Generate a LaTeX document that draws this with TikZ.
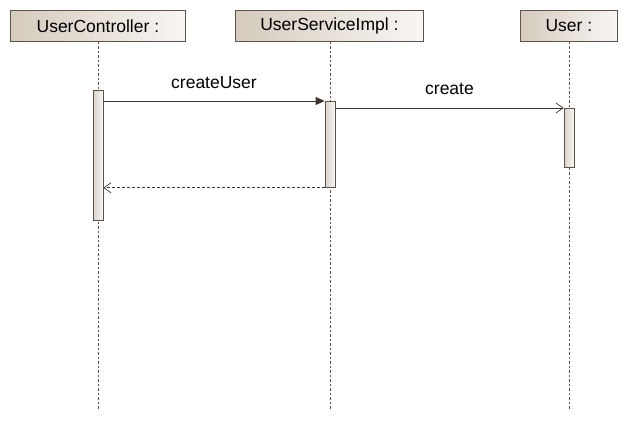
\documentclass[tikz,border=0pt]{standalone}
\usepackage{fontspec}
\setmainfont{Liberation Sans}
\usetikzlibrary{arrows.meta, positioning, calc}
\definecolor{umlline}{HTML}{3E342E}
\definecolor{umlborder}{HTML}{5E534B}
\definecolor{umltan}{HTML}{D5CBBE}
\definecolor{umlpale}{HTML}{F8F6F3}
\definecolor{actgray}{HTML}{D9D2CA}

\begin{document}
\begin{tikzpicture}[
    x=1pt, y=-1pt,
    every node/.style={font=\fontsize{17.5}{20}\selectfont},
    header/.style={draw=umlborder, line width=0.8pt, left color=umltan, right color=umlpale,
                   minimum height=31pt, inner sep=0pt, anchor=north west, text=black},
    activation/.style={draw=umlborder, line width=0.8pt, left color=actgray, right color=umlpale,
                       minimum width=10pt, inner sep=0pt, anchor=north},
    lifeline/.style={umlborder, line width=0.6pt, dash pattern=on 2.5pt off 2pt},
    call/.style={umlline, line width=0.8pt, -{Triangle[length=9pt, width=8pt]}},
    async/.style={umlline, line width=0.8pt, -{Straight Barb[length=7pt, width=10pt, line width=0.7pt]}},
    reply/.style={umlline, line width=0.8pt, dash pattern=on 3pt off 2pt,
                  -{Straight Barb[length=7pt, width=10pt, line width=0.7pt]}},
    msg/.style={font=\fontsize{17.5}{20}\selectfont, text=black},
]

% canvas
\useasboundingbox (0,0) rectangle (628,420);

% lifeline heads
\node[header, minimum width=175pt] (ctrl) at (10,10) {UserController :};
\node[header, minimum width=188pt] (svc) at (235,10) {UserServiceImpl :};
\node[header, minimum width=97pt] (usr) at (520,10) {User :};

% lifeline ends
\coordinate (ctrlend) at (98,410);
\coordinate (svcend) at (330,410);
\coordinate (usrend) at (569,410);

\draw[lifeline] (ctrlend |- ctrl.south) -- (ctrlend);
\draw[lifeline] (svcend |- svc.south) -- (svcend);
\draw[lifeline] (usrend |- usr.south) -- (usrend);

% activations
\node[activation, minimum height=130pt] (actctrl) at (98,90) {};
\node[activation, minimum height=86pt] (actsvc) at (330,101) {};
\node[activation, minimum height=59pt] (actusr) at (569,108) {};

% messages
\draw[call] (actctrl.east |- actsvc.north) -- node[msg, above=9pt] {createUser} (actsvc.north west);
\draw[async] (actsvc.east |- actusr.north) -- node[msg, above=10pt] {create} (actusr.north west);
\draw[reply] (actsvc.south west) -- (actctrl.east |- actsvc.south);

\end{tikzpicture}
\end{document}
